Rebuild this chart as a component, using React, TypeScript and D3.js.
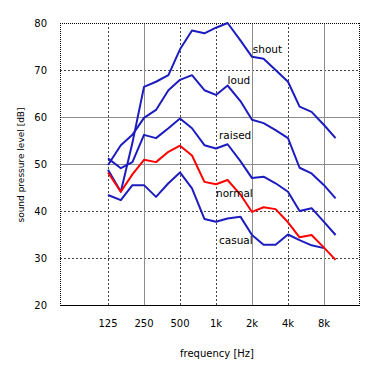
import React from "react";
import * as d3 from "d3";

const frequencies = [125, 160, 200, 250, 315, 400, 500, 630, 800, 1000, 1250, 1600, 2000, 2500, 3150, 4000, 5000, 6300, 8000, 10000];
const shout = [48.8, 44.1, 54.5, 66.4, 67.5, 68.9, 74.4, 78.4, 77.8, 79.0, 80.0, 76.3, 72.8, 72.4, 70.0, 67.5, 62.2, 61.1, 58.3, 55.5];
const loud = [49.8, 54.0, 56.2, 59.8, 61.5, 65.7, 67.9, 68.9, 65.7, 64.7, 66.7, 63.4, 59.4, 58.7, 57.2, 55.5, 49.2, 48.0, 45.5, 42.7];
const raised = [51.2, 49.1, 50.4, 56.2, 55.5, 57.6, 59.7, 57.6, 54.0, 53.3, 54.2, 50.6, 47.0, 47.3, 45.9, 44.1, 40.0, 40.6, 37.7, 34.9];
const normal = [48.2, 44.1, 47.8, 50.9, 50.4, 52.6, 53.9, 51.8, 46.2, 45.7, 46.6, 43.5, 39.8, 40.8, 40.4, 37.6, 34.4, 34.9, 32.2, 29.6];
const casual = [43.4, 42.3, 45.5, 45.5, 43.0, 45.9, 48.2, 44.8, 38.3, 37.7, 38.4, 38.8, 34.9, 32.8, 32.8, 35.0, 33.8, 32.7, 32.1];

const seriesNames = ["shout", "loud", "raised", "normal", "casual"];
const seriesValues = [shout, loud, raised, normal, casual];
const seriesColors = ["#1c1cc0", "#1c1cc0", "#1c1cc0", "#ff0000", "#1c1cc0"];
// label anchors in data units (frequency, dB)
const labelFreqs = [2030, 1250, 1060, 1000, 1060];
const labelDb = [74.3, 67.9, 56.0, 43.8, 33.8];

const xTicks = [125, 250, 500, 1000, 2000, 4000, 8000];
const xTickLabels = ["125", "250", "500", "1k", "2k", "4k", "8k"];
const yTicks = [20, 30, 40, 50, 60, 70, 80];

const W = 378;
const H = 365;
const left = 60, right = 359, top = 23, bottom = 305;

export default function App() {
  const x = d3.scaleLog().base(2).domain([49.6, 15700]).range([left, right]);
  const y = d3.scaleLinear().domain([20, 80]).range([bottom, top]);
  const font = "'DejaVu Sans', Verdana, sans-serif";
  const solidX = new Set([250, 2000, 8000]);
  const solidY = new Set([50, 60]);

  const line = d3
    .line<number>()
    .x((_, i) => x(frequencies[i]))
    .y((d) => y(d));

  const order = [0, 1, 2, 4, 3];

  return (
    <svg width={W} height={H} style={{ position: "absolute", left: 0, top: 0, background: "#fff" }}>
      <rect x={0} y={0} width={W} height={H} fill="#fff" />
      {/* horizontal grid */}
      {yTicks.slice(1, -1).map((t) => (
        <line
          key={"gy" + t}
          x1={left}
          x2={right}
          y1={Math.round(y(t)) + 0.5}
          y2={Math.round(y(t)) + 0.5}
          stroke={solidY.has(t) ? "#8c8c8c" : "#444"}
          strokeDasharray={solidY.has(t) ? undefined : "2,2"}
        />
      ))}
      {/* vertical grid */}
      {xTicks.map((t) => (
        <line
          key={"gx" + t}
          x1={Math.round(x(t)) + 0.5}
          x2={Math.round(x(t)) + 0.5}
          y1={top}
          y2={bottom}
          stroke={solidX.has(t) ? "#8c8c8c" : "#444"}
          strokeDasharray={solidX.has(t) ? undefined : "2,2"}
        />
      ))}
      {/* frame */}
      <line x1={left} x2={right} y1={top + 0.5} y2={top + 0.5} stroke="#000" strokeDasharray="1,1" />
      <line x1={left + 0.5} x2={left + 0.5} y1={top} y2={bottom} stroke="#000" strokeDasharray="1,1" />
      <line x1={right + 0.5} x2={right + 0.5} y1={top} y2={bottom} stroke="#000" strokeDasharray="1,1" />
      <line x1={left} x2={right + 1} y1={bottom + 0.5} y2={bottom + 0.5} stroke="#000" strokeWidth={1.2} />

      {/* series */}
      {order.map((i) => (
        <path
          key={seriesNames[i]}
          d={line(seriesValues[i]) || ""}
          fill="none"
          stroke={seriesColors[i]}
          strokeWidth={2}
          strokeLinejoin="round"
        />
      ))}

      {/* series labels */}
      {seriesNames.map((n, i) => (
        <text
          key={"lab" + n}
          x={x(labelFreqs[i])}
          y={y(labelDb[i])}
          dy="0.35em"
          fontFamily={font}
          fontSize={10.5}
          fill="#000"
        >
          {n}
        </text>
      ))}

      {/* y tick labels */}
      {yTicks.map((t) => (
        <text
          key={"yl" + t}
          x={47}
          y={y(t)}
          dy="0.35em"
          textAnchor="end"
          fontFamily={font}
          fontSize={10}
          fill="#000"
        >
          {t}
        </text>
      ))}
      {/* x tick labels */}
      {xTicks.map((t, i) => (
        <text
          key={"xl" + t}
          x={x(t)}
          y={323}
          dy="0.35em"
          textAnchor="middle"
          fontFamily={font}
          fontSize={10}
          fill="#000"
        >
          {xTickLabels[i]}
        </text>
      ))}
      <text x={217} y={353} dy="0.35em" textAnchor="middle" fontFamily={font} fontSize={10} fill="#000">
        {"frequency  [Hz]"}
      </text>
      <text
        transform={`translate(21,165) rotate(-90)`}
        textAnchor="middle"
        dy="0.35em"
        fontFamily={font}
        fontSize={9}
        fill="#000"
      >
        {"sound pressure level  [dB]"}
      </text>
    </svg>
  );
}
